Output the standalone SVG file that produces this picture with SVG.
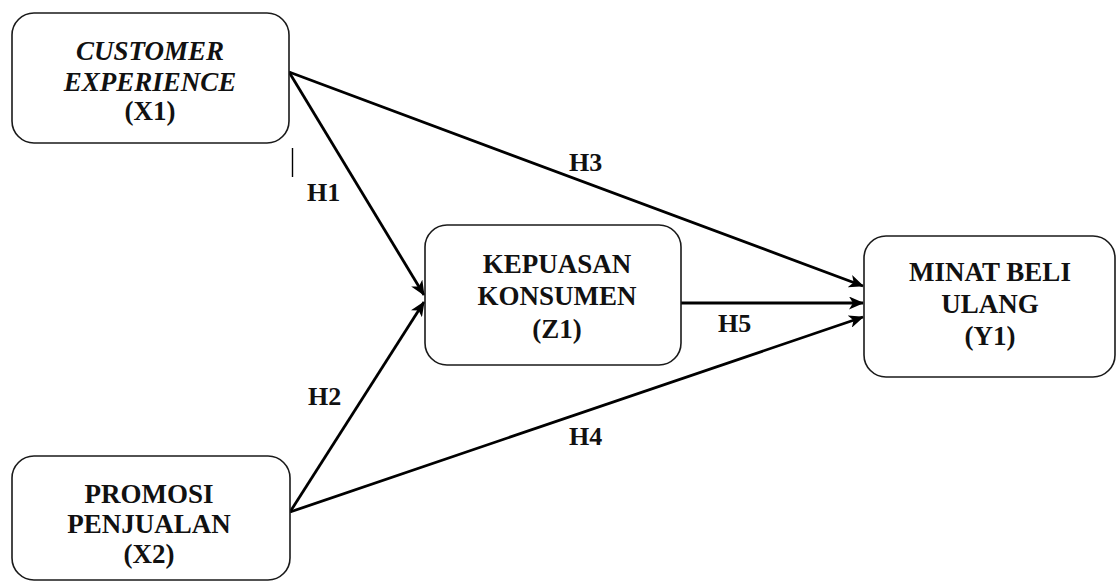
<svg xmlns="http://www.w3.org/2000/svg" width="1117" height="583" viewBox="0 0 1117 583">
  <style>
    .box { fill: #ffffff; stroke: #1a1a1a; stroke-width: 1.6; }
    .lbl { font-family: 'Liberation Serif', 'DejaVu Serif', serif; font-weight: bold; font-size: 27px; fill: #111; text-anchor: middle; }
    .it { font-style: italic; }
    .hyp { font-family: 'Liberation Serif', 'DejaVu Serif', serif; font-weight: bold; font-size: 26px; fill: #111; }
    .edge { stroke: #000; stroke-width: 2.8; fill: none; marker-end: url(#arrow); }
  </style>
  <defs>
    <marker id="arrow" markerUnits="userSpaceOnUse" markerWidth="16" markerHeight="13" refX="14" refY="6.5" orient="auto">
      <path d="M0,0 L15,6.5 L0,13 L4,6.5 Z" fill="#000"/>
    </marker>
  </defs>
  <rect width="1117" height="583" fill="#ffffff"/>

  <g id="connectors">
    <line class="edge" x1="289" y1="72" x2="424" y2="295"/>
    <line class="edge" x1="290" y1="512" x2="424" y2="302"/>
    <line class="edge" x1="289" y1="72" x2="863" y2="286"/>
    <line class="edge" x1="681" y1="303" x2="863" y2="303"/>
    <line class="edge" x1="290" y1="512" x2="863" y2="317"/>
    <line x1="292.5" y1="148" x2="292.5" y2="177" stroke="#000" stroke-width="1.4"/>
    <text class="hyp" x="307" y="201">H1</text>
    <text class="hyp" x="308" y="405">H2</text>
    <text class="hyp" x="569" y="171">H3</text>
    <text class="hyp" x="569" y="445">H4</text>
    <text class="hyp" x="718" y="332">H5</text>
  </g>

  <g id="x1">
    <rect class="box" x="12" y="13" width="277" height="130" rx="22"/>
    <text class="lbl it" x="150" y="60">CUSTOMER</text>
    <text class="lbl it" x="150" y="91">EXPERIENCE</text>
    <text class="lbl" x="150" y="120">(X1)</text>
  </g>

  <g id="x2">
    <rect class="box" x="12" y="456" width="278" height="124" rx="22"/>
    <text class="lbl" x="149" y="503">PROMOSI</text>
    <text class="lbl" x="149" y="533">PENJUALAN</text>
    <text class="lbl" x="149" y="563">(X2)</text>
  </g>

  <g id="z1">
    <rect class="box" x="425" y="225" width="256" height="140" rx="22"/>
    <text class="lbl" x="557" y="273">KEPUASAN</text>
    <text class="lbl" x="557" y="305">KONSUMEN</text>
    <text class="lbl" x="557" y="338">(Z1)</text>
  </g>

  <g id="y1">
    <rect class="box" x="864" y="236" width="251" height="141" rx="22"/>
    <text class="lbl" x="990" y="281">MINAT BELI</text>
    <text class="lbl" x="990" y="313">ULANG</text>
    <text class="lbl" x="990" y="345">(Y1)</text>
  </g>
</svg>
